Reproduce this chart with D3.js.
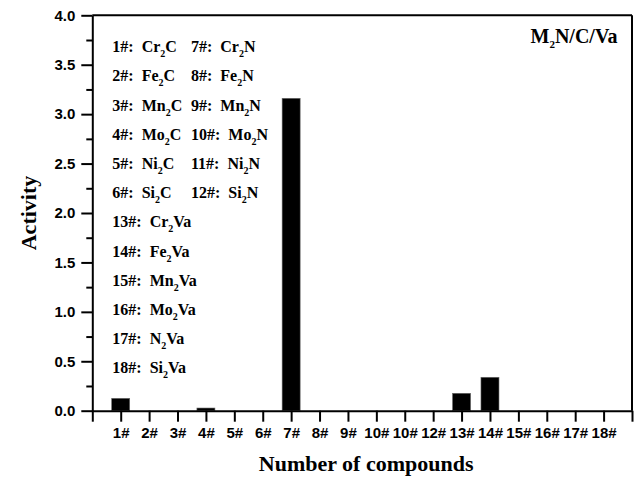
<!DOCTYPE html>
<html>
<head>
<meta charset="utf-8">
<script src="https://cdn.jsdelivr.net/npm/d3@7"></script>
<style>
  body { margin: 0; background: #fff; }
  text { fill: #000; }
</style>
</head>
<body>
<div id="chart"></div>
<script>
// data
var labels = ["1#", "2#", "3#", "4#", "5#", "6#", "7#", "8#", "9#",
              "10#", "10#", "12#", "13#", "14#", "15#", "16#", "17#", "18#"];
var activity = [0.125, 0, 0, 0.027, 0, 0, 3.16, 0, 0,
                0, 0, 0, 0.176, 0.338, 0, 0, 0, 0];

// legend entries: number, element, subscript, rest
var legendNums = ["1#:", "2#:", "3#:", "4#:", "5#:", "6#:",
                  "7#:", "8#:", "9#:", "10#:", "11#:", "12#:",
                  "13#:", "14#:", "15#:", "16#:", "17#:", "18#:"];
var legendEl = ["Cr", "Fe", "Mn", "Mo", "Ni", "Si",
                "Cr", "Fe", "Mn", "Mo", "Ni", "Si",
                "Cr", "Fe", "Mn", "Mo", "N", "Si"];
var legendRest = ["C", "C", "C", "C", "C", "C",
                  "N", "N", "N", "N", "N", "N",
                  "Va", "Va", "Va", "Va", "Va", "Va"];

var W = 636, H = 479;
var margin = {top: 15.3, right: 4, bottom: 68.3, left: 92.3};
var width = W - margin.left - margin.right,
    height = H - margin.top - margin.bottom;

var svg = d3.select("#chart")
  .append("svg")
    .attr("width", W)
    .attr("height", H)
  .append("g")
    .attr("transform", "translate(" + margin.left + "," + margin.top + ")");

var x = d3.scaleLinear().domain([0, 19]).range([0, width]);
var y = d3.scaleLinear().domain([0, 4]).range([height, 0]);

var tickFont = "'Liberation Sans', Arial, sans-serif";
var serif = "'Liberation Serif', 'Times New Roman', serif";

// bars
var barW = 18;
svg.selectAll(".bar")
  .data(activity)
  .join("rect")
    .attr("class", "bar")
    .attr("x", function(d, i) { return x(i + 1) - barW / 2; })
    .attr("width", barW)
    .attr("y", function(d) { return y(d); })
    .attr("height", function(d) { return y(0) - y(d); })
    .attr("fill", "#000")
    .attr("stroke", "#666")
    .attr("stroke-width", 0.6);

// minor y ticks
svg.append("g")
  .call(d3.axisLeft(y).tickValues(d3.range(0.25, 4, 0.5)).tickSize(6).tickFormat(""))
  .call(function(g) {
    g.select(".domain").remove();
    g.selectAll("line").attr("stroke-width", 2);
  });

// y axis
svg.append("g")
  .call(d3.axisLeft(y).tickValues(d3.range(0, 4.01, 0.5)).tickSize(11).tickSizeOuter(0)
    .tickPadding(6).tickFormat(d3.format(".1f")))
  .call(function(g) {
    g.select(".domain").attr("stroke-width", 2);
    g.selectAll("line").attr("stroke-width", 2);
    g.selectAll("text")
      .style("font-family", tickFont)
      .style("font-weight", "bold")
      .style("font-size", "15px");
  });

// x axis
svg.append("g")
  .attr("transform", "translate(0," + height + ")")
  .call(d3.axisBottom(x).tickValues(d3.range(0, 20)).tickSize(11).tickSizeOuter(0)
    .tickPadding(6)
    .tickFormat(function(d) { return (d >= 1 && d <= 18) ? labels[d - 1] : ""; }))
  .call(function(g) {
    g.select(".domain").attr("stroke-width", 2);
    g.selectAll("line").attr("stroke-width", 2);
    g.selectAll("text")
      .style("font-family", tickFont)
      .style("font-weight", "bold")
      .style("font-size", "15px");
  });

// top and right frame
svg.append("line")
  .attr("x1", 0).attr("x2", width)
  .attr("y1", 0).attr("y2", 0)
  .attr("stroke", "#000").attr("stroke-width", 2);
svg.append("line")
  .attr("x1", width).attr("x2", width)
  .attr("y1", 0).attr("y2", height)
  .attr("stroke", "#000").attr("stroke-width", 2);

// axis titles
svg.append("text")
  .attr("transform", "translate(" + (-56) + "," + (height / 2) + ") rotate(-90)")
  .attr("text-anchor", "middle")
  .style("font-family", serif)
  .style("font-weight", "bold")
  .style("font-size", "22px")
  .text("Activity");

svg.append("text")
  .attr("x", width / 2 + 4)
  .attr("y", height + 60)
  .attr("text-anchor", "middle")
  .style("font-family", serif)
  .style("font-weight", "bold")
  .style("font-size", "22px")
  .text("Number of compounds");

// legend text
var leg = svg.append("g")
  .style("font-family", serif)
  .style("font-weight", "bold")
  .style("font-size", "16px");

legendNums.forEach(function(n, i) {
  var col = (i >= 6 && i < 12) ? 1 : 0;
  var row = i < 6 ? i : i - 6;
  var t = leg.append("text")
    .attr("x", col === 0 ? 20 : 98.7)
    .attr("y", 37 + row * 29.2);
  t.append("tspan").text(n + "\u00a0\u00a0" + legendEl[i]);
  t.append("tspan").attr("dy", 5).style("font-size", "10px").text("2");
  t.append("tspan").attr("dy", -5).text(legendRest[i]);
});

// title in the corner
var ttl = svg.append("text")
  .attr("x", width - 14.5)
  .attr("y", 28)
  .attr("text-anchor", "end")
  .style("font-family", serif)
  .style("font-weight", "bold")
  .style("font-size", "20px");
ttl.append("tspan").text("M");
ttl.append("tspan").attr("dy", 5).style("font-size", "11px").text("2");
ttl.append("tspan").attr("dy", -5).text("N/C/Va");
</script>
</body>
</html>
